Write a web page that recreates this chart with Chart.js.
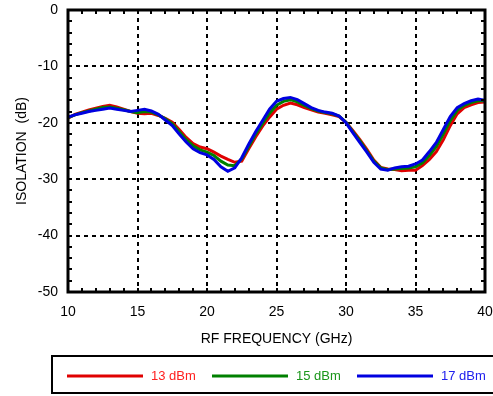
<!DOCTYPE html>
<html>
<head>
<meta charset="utf-8">
<script src="https://cdn.jsdelivr.net/npm/chart.js@4.4.0/dist/chart.umd.min.js"></script>
<style>
  html, body { margin: 0; padding: 0; background: #fff; }
</style>
</head>
<body>
<canvas id="isolation" width="493" height="396"></canvas>
<script>
// RF frequency (GHz)
const freqs = [
  10.0, 10.5, 11.0, 11.5, 12.0, 12.5, 13.0, 13.5, 14.0, 14.5,
  15.0, 15.5, 16.0, 16.5, 17.0, 17.5, 18.0, 18.5, 19.0, 19.5,
  20.0, 20.5, 21.0, 21.5, 22.0, 22.5, 23.0, 23.5, 24.0, 24.5,
  25.0, 25.5, 26.0, 26.5, 27.0, 27.5, 28.0, 28.5, 29.0, 29.5,
  30.0, 30.5, 31.0, 31.5, 32.0, 32.5, 33.0, 33.5, 34.0, 34.5,
  35.0, 35.5, 36.0, 36.5, 37.0, 37.5, 38.0, 38.5, 39.0, 39.5, 40.0
];

// isolation (dB) for each LO drive level
const iso13dBm = [
  -19.2, -18.5, -18.1, -17.7, -17.4, -17.1, -16.9, -17.2, -17.6, -18.0,
  -18.3, -18.4, -18.3, -18.7, -19.2, -19.9, -21.2, -22.6, -23.7, -24.3,
  -24.6, -25.2, -25.9, -26.5, -27.0, -26.8, -24.6, -22.5, -20.6, -19.0,
  -17.6, -16.9, -16.5, -16.8, -17.3, -17.7, -18.1, -18.3, -18.6, -18.9,
  -19.9, -21.4, -23.0, -24.7, -26.6, -27.9, -28.2, -28.3, -28.5, -28.4,
  -28.4, -27.6, -26.5, -25.1, -23.0, -20.5, -18.4, -17.3, -16.8, -16.4, -16.3
];
const iso15dBm = [
  -19.1, -18.6, -18.2, -17.9, -17.6, -17.3, -17.2, -17.4, -17.7, -18.0,
  -18.2, -18.0, -18.1, -18.6, -19.3, -20.2, -21.6, -23.0, -24.1, -24.8,
  -25.2, -25.8, -26.8, -27.5, -27.6, -26.4, -24.2, -22.0, -20.1, -18.3,
  -16.9, -16.2, -15.9, -16.3, -16.9, -17.5, -17.9, -18.2, -18.4, -18.8,
  -19.9, -21.6, -23.2, -25.0, -26.8, -28.0, -28.3, -28.2, -28.1, -28.0,
  -27.8, -27.1, -25.8, -24.2, -22.0, -19.6, -17.8, -16.9, -16.4, -16.1, -16.1
];
const iso17dBm = [
  -19.0, -18.6, -18.3, -18.0, -17.8, -17.6, -17.4, -17.6, -17.8, -18.0,
  -17.8, -17.6, -17.9, -18.5, -19.5, -20.5, -22.0, -23.4, -24.6, -25.3,
  -25.7, -26.5, -27.8, -28.6, -28.0, -26.2, -23.8, -21.6, -19.6, -17.6,
  -16.2, -15.7, -15.5, -15.9, -16.6, -17.3, -17.8, -18.1, -18.3, -18.8,
  -20.0, -21.8, -23.5, -25.2, -27.0, -28.2, -28.4, -28.0, -27.8, -27.7,
  -27.3, -26.6, -25.1, -23.5, -21.2, -18.9, -17.3, -16.6, -16.1, -15.8, -16.0
];

const seriesLabels = ['13 dBm', '15 dBm', '17 dBm'];
const seriesValues = [iso13dBm, iso15dBm, iso17dBm];
const lineColors = ['#e00000', '#008000', '#0000e0'];
const textColors = ['#ff2020', '#1a961a', '#2020ee'];

const FONT = '"Liberation Sans", Arial, Helvetica, sans-serif';
Chart.defaults.font.family = FONT;
Chart.defaults.font.size = 14;
Chart.defaults.color = '#000';

// heavy box round the plot with small inward ticks on all four sides
const framePlugin = {
  id: 'frame',
  afterDatasetsDraw(chart) {
    const { ctx, chartArea: a, scales } = chart;
    ctx.save();
    ctx.strokeStyle = '#000';
    ctx.lineWidth = 2;
    ctx.beginPath();
    for (let f = 11; f < 40; f++) {
      const px = Math.round(scales.x.getPixelForValue(f));
      ctx.moveTo(px, a.bottom); ctx.lineTo(px, a.bottom - 4);
      ctx.moveTo(px, a.top); ctx.lineTo(px, a.top + 4);
    }
    for (let d = -48; d < 0; d += 2) {
      const py = Math.round(scales.y.getPixelForValue(d));
      ctx.moveTo(a.left, py); ctx.lineTo(a.left + 4, py);
      ctx.moveTo(a.right, py); ctx.lineTo(a.right - 4, py);
    }
    ctx.stroke();
    ctx.lineWidth = 3;
    ctx.strokeRect(a.left, a.top, a.right - a.left, a.bottom - a.top);
    ctx.restore();
  }
};

// boxed legend under the axis title
const legendBoxPlugin = {
  id: 'legendBox',
  afterDraw(chart) {
    const { ctx } = chart;
    ctx.save();
    ctx.strokeStyle = '#000';
    ctx.lineWidth = 2;
    ctx.strokeRect(52, 356, 460, 37);
    const starts = [67, 212, 357];
    ctx.font = '13px ' + FONT;
    ctx.textBaseline = 'middle';
    chart.data.datasets.forEach((ds, i) => {
      const x = starts[i];
      ctx.strokeStyle = ds.borderColor;
      ctx.lineWidth = 3;
      ctx.beginPath();
      ctx.moveTo(x, 376);
      ctx.lineTo(x + 76, 376);
      ctx.stroke();
      ctx.fillStyle = textColors[i];
      ctx.fillText(ds.label, x + 84, 376);
    });
    ctx.restore();
  }
};

new Chart(document.getElementById('isolation'), {
  type: 'line',
  data: {
    datasets: seriesLabels.map((label, i) => ({
      label: label,
      data: freqs.map((f, k) => ({ x: f, y: seriesValues[i][k] })),
      borderColor: lineColors[i],
      borderWidth: 3,
      pointRadius: 0,
      tension: 0,
      fill: false,
      order: 2 - i
    }))
  },
  options: {
    responsive: false,
    animation: false,
    events: [],
    layout: { padding: { left: 0, top: 10, right: 8, bottom: 44 } },
    plugins: {
      legend: { display: false },
      tooltip: { enabled: false }
    },
    scales: {
      x: {
        type: 'linear',
        min: 10,
        max: 40,
        ticks: { stepSize: 5, padding: 12, color: '#000' },
        grid: { color: '#000', lineWidth: 2, drawTicks: false },
        border: { display: false, dash: [4, 4] },
        title: {
          display: true,
          text: 'RF FREQUENCY (GHz)',
          color: '#000',
          padding: { top: 4, bottom: 4 }
        },
        afterFit(scale) {
          scale.height = 60;
          scale.paddingLeft = 0;
          scale.paddingRight = 0;
        }
      },
      y: {
        min: -50,
        max: 0,
        ticks: { stepSize: 10, padding: 10, color: '#000' },
        grid: { color: '#000', lineWidth: 2, drawTicks: false },
        border: { display: false, dash: [4, 4] },
        title: {
          display: true,
          text: 'ISOLATION  (dB)',
          color: '#000',
          padding: { top: 14, bottom: 0 }
        },
        afterFit(scale) {
          scale.width = 68;
          scale.paddingTop = 0;
          scale.paddingBottom = 0;
        }
      }
    }
  },
  plugins: [framePlugin, legendBoxPlugin]
});
</script>
</body>
</html>
